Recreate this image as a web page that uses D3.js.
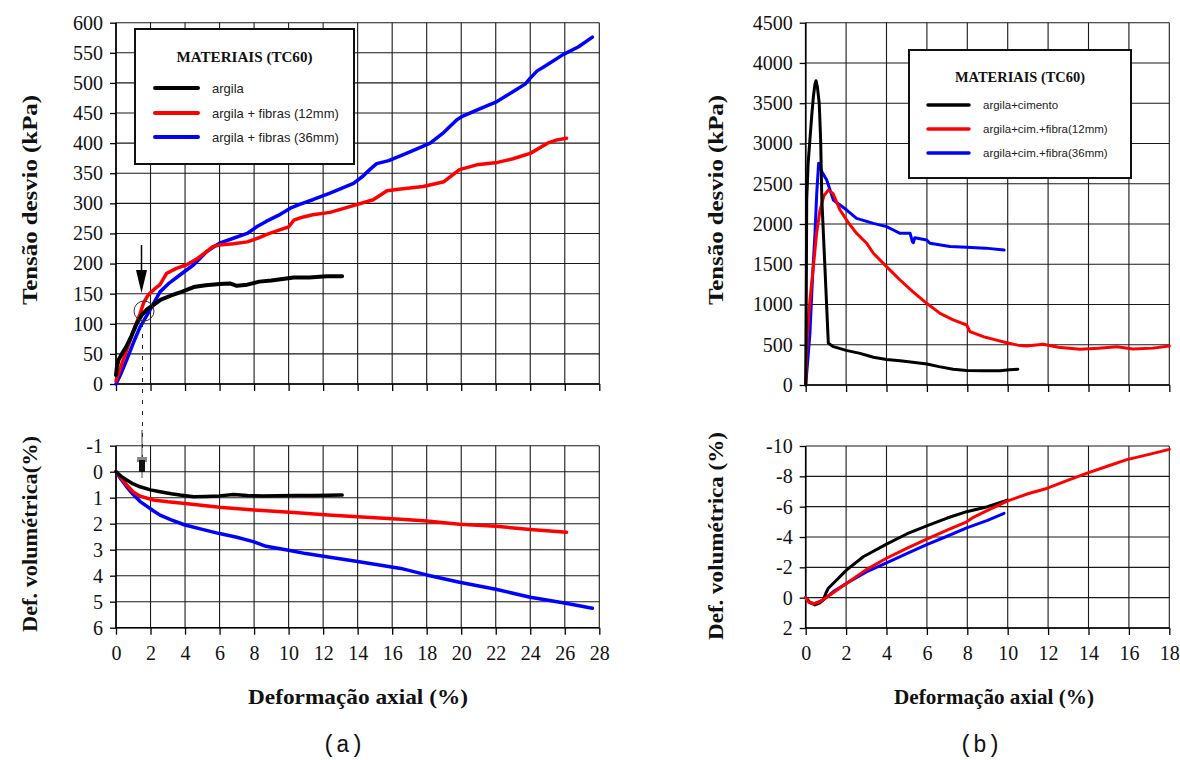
<!DOCTYPE html>
<html><head><meta charset="utf-8">
<script src="https://cdn.jsdelivr.net/npm/d3@7"></script>
<style>
body{margin:0;background:#fff;}
svg{display:block;}
</style></head>
<body>
<svg id="c" width="1180" height="760"></svg>
<script>
// ---------- DATA ----------
const legendA = ["argila", "argila + fibras (12mm)", "argila + fibras (36mm)"];
const legendB = ["argila+cimento", "argila+cim.+fibra(12mm)", "argila+cim.+fibra(36mm)"];
const seriesColors = ["#000000", "#ff0000", "#0000ff"];

const xTicksA = d3.range(0, 29, 2);
const yTicksTopA = d3.range(0, 601, 50);
const yTicksBotA = [-1, 0, 1, 2, 3, 4, 5, 6];
const xTicksB = d3.range(0, 19, 2);
const yTicksTopB = d3.range(0, 4501, 500);
const yTicksBotB = [-10, -8, -6, -4, -2, 0, 2];

// (a) Tensão desvio (kPa)
const stressArgila = [[0,15],[0.05,28],[0.15,40],[0.3,48],[0.6,62],[0.9,80],[1.2,100],[1.5,115],[1.8,124],[2.2,132],[2.6,140],[3.2,147],[3.8,153],[4.5,161],[5.2,164],[6.0,166],[6.6,167],[7.0,163],[7.6,165],[8.3,170],[9.0,172],[10.3,177],[11.2,177],[12.2,179],[13.1,179]];
const stressFib12 = [[0,5],[0.3,30],[0.62,56],[1.0,88],[1.4,117],[1.6,135],[1.87,148],[2.2,157],[2.55,165],[2.94,184],[3.5,192],[4.1,198],[4.7,208],[5.26,220],[5.6,228],[6.0,231],[6.8,233],[7.6,236],[8.2,242],[8.7,248],[9.4,255],[10.0,261],[10.3,272],[10.8,277],[11.4,281],[12.4,285],[13.6,295],[14.9,306],[15.7,321],[16.5,324],[17.8,328],[19.0,336],[19.9,356],[20.9,364],[22.1,368],[23.0,374],[24.0,383],[25.0,400],[25.5,405],[26.1,408]];
const stressFib36 = [[0,0],[0.3,18],[0.62,40],[1.0,68],[1.4,95],[1.97,123],[2.55,153],[3.1,168],[3.7,181],[4.5,198],[5.26,220],[6.0,234],[6.8,242],[7.6,250],[8.2,262],[8.7,270],[9.4,280],[10.1,292],[10.6,298],[11.4,306],[12.4,317],[13.76,333],[14.3,345],[14.7,356],[15.1,366],[15.8,371],[16.65,381],[17.4,390],[18.2,400],[19.0,418],[19.75,439],[20.1,445],[21.0,456],[22.07,469],[23.2,489],[23.7,498],[24.0,508],[24.4,520],[24.8,527],[25.9,547],[26.8,560],[27.6,576]];

// (a) Def. volumétrica (%)
const volArgila = [[0,0],[0.3,0.18],[0.62,0.32],[1.0,0.47],[1.39,0.58],[2.0,0.7],[2.55,0.77],[3.2,0.85],[3.7,0.9],[4.5,0.96],[5.2,0.95],[6.0,0.93],[6.8,0.88],[7.6,0.92],[8.5,0.93],[10.3,0.92],[11.5,0.92],[13.1,0.9]];
const volFib12 = [[0,0],[0.3,0.25],[0.62,0.51],[1.0,0.78],[1.4,0.94],[2.16,1.09],[3.0,1.16],[4.0,1.22],[6.0,1.37],[8.0,1.47],[10.3,1.57],[12.3,1.67],[14,1.73],[16.5,1.83],[18,1.9],[19.9,2.02],[22,2.1],[24,2.22],[26.1,2.33]];
const volFib36 = [[0,0],[0.3,0.3],[0.62,0.58],[1.0,0.88],[1.4,1.15],[2.16,1.5],[2.55,1.67],[3.2,1.85],[4.0,2.05],[5.0,2.22],[6,2.38],[7,2.52],[8,2.7],[8.7,2.87],[10,3.02],[11,3.15],[12.2,3.27],[14,3.45],[16.5,3.72],[18,3.97],[19.9,4.25],[22,4.52],[24,4.83],[25.9,5.04],[27.6,5.25]];

// (b) Tensão desvio (kPa)
const stressCim = [[0,0],[0.03,1200],[0.05,2300],[0.12,2750],[0.21,3050],[0.3,3350],[0.38,3580],[0.46,3740],[0.51,3780],[0.58,3700],[0.67,3500],[0.74,3043],[0.8,2300],[0.95,1470],[1.12,520],[1.37,476],[2.0,430],[2.69,393],[3.35,344],[4.0,318],[4.67,302],[5.3,282],[6.0,261],[6.6,228],[7.3,195],[7.97,180],[8.8,178],[9.62,178],[10.1,190],[10.5,195]];
const stressCimFib12 = [[0,0],[0.05,400],[0.1,700],[0.21,1056],[0.38,1470],[0.54,1884],[0.71,2173],[0.9,2350],[1.12,2420],[1.35,2380],[1.7,2173],[2.1,2020],[2.52,1884],[3.02,1760],[3.35,1636],[4.0,1470],[4.67,1304],[5.3,1160],[5.99,1015],[6.65,890],[7.3,810],[7.97,745],[8.13,662],[8.8,600],[9.4,560],[9.95,525],[10.5,495],[10.94,484],[11.76,505],[12.5,470],[13.58,443],[14.5,455],[15.4,476],[16.2,447],[17.2,458],[18,484]];
const stressCimFib36 = [[0,0],[0.1,300],[0.21,642],[0.33,1300],[0.46,1884],[0.55,2400],[0.64,2753],[0.8,2650],[1.04,2546],[1.37,2298],[2.03,2173],[2.52,2070],[3.35,2008],[4.0,1967],[4.34,1925],[4.67,1884],[5.17,1884],[5.28,1780],[5.33,1768],[5.4,1830],[5.99,1800],[6.15,1760],[7.14,1719],[7.97,1710],[8.9,1700],[9.82,1677]];

// (b) Def. volumétrica (%)
const volCim = [[0,0],[0.2,0.3],[0.46,0.48],[0.7,0.35],[0.87,0.15],[1.0,-0.3],[1.12,-0.62],[1.37,-0.95],[2.03,-1.83],[2.85,-2.7],[4.0,-3.53],[5.0,-4.2],[5.99,-4.73],[7.0,-5.25],[7.97,-5.67],[9.0,-6.0],[9.98,-6.43]];
const volCimFib12 = [[0,0],[0.13,0.27],[0.38,0.4],[0.71,0.27],[1.2,-0.18],[2.03,-0.95],[3.0,-1.85],[4.0,-2.6],[5.0,-3.25],[5.99,-3.86],[7.0,-4.45],[7.97,-5.0],[8.3,-5.3],[9.0,-5.75],[9.98,-6.37],[11.0,-6.85],[11.93,-7.2],[13.0,-7.75],[13.9,-8.2],[15.0,-8.7],[15.9,-9.1],[17.0,-9.45],[18,-9.78]];
const volCimFib36 = [[0,0],[0.21,0.33],[0.46,0.4],[0.87,0.15],[1.37,-0.4],[2.03,-0.95],[3.0,-1.7],[4.0,-2.3],[5.0,-2.9],[5.99,-3.5],[7.0,-4.05],[7.97,-4.6],[9.0,-5.1],[9.82,-5.56]];

// ---------- DRAW ----------
const svg = d3.select("#c");
const SERIF = "Liberation Serif, Times New Roman, serif";
const SANS = "Liberation Sans, Arial, sans-serif";
const MONO = "Liberation Mono, Courier New, monospace";

const xA = d3.scaleLinear([0, 28], [116, 599.3]);
const yTA = d3.scaleLinear([0, 600], [384, 22.7]);
const yBA = d3.scaleLinear([-1, 6], [445.7, 627.7]);
const xB = d3.scaleLinear([0, 18], [805.7, 1169.3]);
const yTB = d3.scaleLinear([0, 4500], [385, 22.7]);
const yBB = d3.scaleLinear([-10, 2], [446, 628]);

const fmt = d => String(d);

function panel(x, y, xt, yt, showXLabels) {
  const g = svg.append("g");
  const [x0, x1] = x.range();
  const [yb, ytop] = y.range();
  const lo = Math.min(yb, ytop), hi = Math.max(yb, ytop);
  g.append("g").selectAll("line").data(xt).join("line")
    .attr("x1", d => x(d)).attr("x2", d => x(d)).attr("y1", lo).attr("y2", hi)
    .attr("stroke", "#1a1a1a").attr("stroke-width", 1.1);
  g.append("g").selectAll("line").data(yt).join("line")
    .attr("x1", x0).attr("x2", x1).attr("y1", d => y(d)).attr("y2", d => y(d))
    .attr("stroke", "#1a1a1a").attr("stroke-width", 1.1);
  const ay = g.append("g").attr("transform", `translate(${x0},0)`)
    .call(d3.axisLeft(y).tickValues(yt).tickSize(6).tickPadding(7).tickFormat(fmt));
  ay.attr("font-family", null).attr("font-size", null);
  ay.select(".domain").attr("stroke-width", 1.6).attr("d", `M0,${lo}V${hi}`);
  ay.selectAll("line").attr("stroke-width", 1.3);
  ay.selectAll("text").style("font-family", SERIF).style("font-size", "20px").attr("fill", "#111");
  const ax = g.append("g").attr("transform", `translate(0,${hi})`)
    .call(d3.axisBottom(x).tickValues(xt).tickSize(7).tickPadding(11).tickFormat(showXLabels ? fmt : ""));
  ax.attr("font-family", null).attr("font-size", null);
  ax.select(".domain").attr("stroke-width", 1.6).attr("d", `M${x0},0H${x1}`);
  ax.selectAll("line").attr("stroke-width", 1.3);
  ax.selectAll("text").style("font-family", SERIF).style("font-size", "20px").attr("fill", "#111");
  return g;
}

panel(xA, yTA, xTicksA, yTicksTopA, false);
panel(xA, yBA, xTicksA, yTicksBotA, true);
panel(xB, yTB, xTicksB, yTicksTopB, false);
panel(xB, yBB, xTicksB, yTicksBotB, true);

function curveL(x, y, data, color, w) {
  svg.append("path").datum(data)
    .attr("d", d3.line().x(d => x(d[0])).y(d => y(d[1])))
    .attr("fill", "none").attr("stroke", color).attr("stroke-width", w)
    .attr("stroke-linejoin", "round").attr("stroke-linecap", "round");
}

curveL(xA, yTA, stressFib36, seriesColors[2], 3.5);
curveL(xA, yTA, stressFib12, seriesColors[1], 3.5);
curveL(xA, yTA, stressArgila, seriesColors[0], 4);
curveL(xA, yBA, volFib36, seriesColors[2], 3.5);
curveL(xA, yBA, volFib12, seriesColors[1], 3.5);
curveL(xA, yBA, volArgila, seriesColors[0], 3.5);

curveL(xB, yTB, stressCimFib36, seriesColors[2], 3);
curveL(xB, yTB, stressCimFib12, seriesColors[1], 3);
curveL(xB, yTB, stressCim, seriesColors[0], 3);
curveL(xB, yBB, volCimFib36, seriesColors[2], 3);
curveL(xB, yBB, volCim, seriesColors[0], 3);
curveL(xB, yBB, volCimFib12, seriesColors[1], 3);

// annotations in (a)
const ann = svg.append("g");
ann.append("line").attr("x1", 141.5).attr("x2", 141.5).attr("y1", 245).attr("y2", 272).attr("stroke", "#000").attr("stroke-width", 1.5);
ann.append("path").attr("d", "M136,270L147,270L141.5,293Z").attr("fill", "#000");
ann.append("circle").attr("cx", 144).attr("cy", 311).attr("r", 10).attr("fill", "none").attr("stroke", "#333").attr("stroke-width", 1);
ann.append("line").attr("x1", 142.5).attr("x2", 142.5).attr("y1", 323).attr("y2", 460)
  .attr("stroke", "#222").attr("stroke-width", 1).attr("stroke-dasharray", "4,7");
ann.append("line").attr("x1", 142).attr("x2", 142).attr("y1", 430).attr("y2", 478).attr("stroke", "#444").attr("stroke-width", 1);
ann.append("rect").attr("x", 137).attr("y", 457).attr("width", 10).attr("height", 5).attr("fill", "#888");
ann.append("rect").attr("x", 139).attr("y", 460).attr("width", 6).attr("height", 12).attr("fill", "#111");

// legends
function legend(x, y, w, h, titleY, titleLen, rows, lineX1, lineX2, textX, fs, titleFs, lw) {
  const g = svg.append("g");
  g.append("rect").attr("x", x).attr("y", y).attr("width", w).attr("height", h)
    .attr("fill", "#fff").attr("stroke", "#111").attr("stroke-width", 2);
  g.append("text").attr("x", x + w / 2).attr("y", titleY).attr("text-anchor", "middle")
    .style("font-family", SERIF).attr("font-weight", "bold").style("font-size", titleFs + "px")
    .attr("textLength", titleLen).attr("lengthAdjust", "spacingAndGlyphs")
    .attr("fill", "#111").text("MATERIAIS (TC60)");
  rows.forEach((r, i) => {
    g.append("line").attr("x1", lineX1).attr("x2", lineX2).attr("y1", r.y).attr("y2", r.y)
      .attr("stroke", seriesColors[i]).attr("stroke-width", lw).attr("stroke-linecap", "round");
    g.append("text").attr("x", textX).attr("y", r.y).attr("dy", "0.35em")
      .style("font-family", SANS).style("font-size", fs + "px").attr("fill", "#222").text(r.label);
  });
}
legend(135, 29, 219, 135, 62, 136,
  legendA.map((l, i) => ({label: l, y: [88, 113, 137][i]})), 155, 198, 212, 13, 15, 4);
legend(909, 50, 222, 128, 82, 130,
  legendB.map((l, i) => ({label: l, y: [105, 129, 153][i]})), 928, 969, 983, 11.5, 14, 3.5);

// axis titles
function vtitle(x, y, txt, len) {
  svg.append("text").attr("transform", `translate(${x},${y}) rotate(-90)`)
    .attr("text-anchor", "middle").attr("dominant-baseline", "central")
    .style("font-family", SERIF).attr("font-weight", "bold").style("font-size", "21px")
    .attr("textLength", len).attr("lengthAdjust", "spacingAndGlyphs")
    .attr("fill", "#111").text(txt);
}
vtitle(30, 200, "Tensão desvio (kPa)", 210);
vtitle(30, 534, "Def. volumétrica(%)", 196);
vtitle(716, 200, "Tensão desvio (kPa)", 210);
vtitle(716, 536, "Def. volumétrica (%)", 208);

function htitle(x, y, txt, len) {
  svg.append("text").attr("x", x).attr("y", y).attr("text-anchor", "middle")
    .style("font-family", SERIF).attr("font-weight", "bold").style("font-size", "21px")
    .attr("textLength", len).attr("lengthAdjust", "spacingAndGlyphs")
    .attr("fill", "#111").text(txt);
}
htitle(358, 704, "Deformação axial (%)", 220);
htitle(994, 704, "Deformação axial (%)", 200);

svg.append("text").attr("x", 343).attr("y", 752).attr("text-anchor", "middle")
  .style("font-family", MONO).style("font-size", "23px").attr("fill", "#111").text("(a)");
svg.append("text").attr("x", 980).attr("y", 752).attr("text-anchor", "middle")
  .style("font-family", MONO).style("font-size", "23px").attr("fill", "#111").text("(b)");
</script>
</body></html>
